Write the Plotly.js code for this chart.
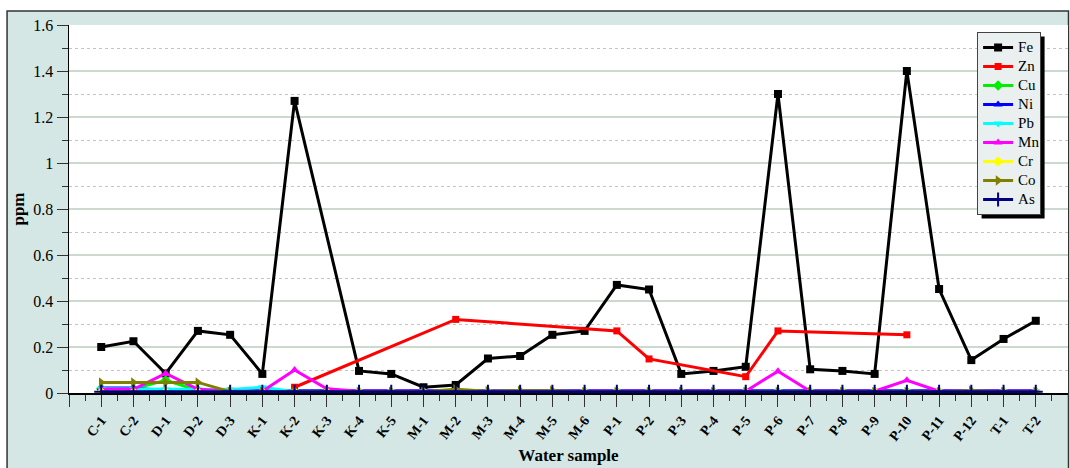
<!DOCTYPE html>
<html>
<head>
<meta charset="utf-8">
<script src="https://cdn.plot.ly/plotly-3.0.1.min.js"></script>
<style>
  html, body { margin: 0; padding: 0; background: #ffffff; }
  #chart { width: 1070px; height: 468px; }
  /* legend rows stay compact while the labels read larger */
  #chart .legendtext { font-size: 15px !important; }
</style>
</head>
<body>
<div id="chart"></div>
<script>
// Sample sites along the x axis
const samples = ['C-1','C-2','D-1','D-2','D-3','K-1','K-2','K-3','K-4','K-5',
  'M-1','M-2','M-3','M-4','M-5','M-6','P-1','P-2','P-3','P-4','P-5','P-6',
  'P-7','P-8','P-9','P-10','P-11','P-12','T-1','T-2'];

// Metal concentrations (ppm); null = not measured
const fe = [0.20, 0.225, 0.085, 0.27, 0.253, 0.083, 1.27, null, 0.096, 0.083,
  0.025, 0.035, 0.15, 0.161, 0.253, 0.27, 0.47, 0.45, 0.083, 0.096, 0.114, 1.30,
  0.103, 0.096, 0.083, 1.40, 0.452, 0.143, 0.235, 0.314];
const zn = [null, null, null, null, null, null, 0.025, null, null, null,
  null, 0.32, null, null, null, null, 0.27, 0.148, null, null, 0.071, 0.27,
  null, null, null, 0.253, null, null, null, null];
const cu = [0.02, 0.018, 0.055, 0.012, 0.005, 0.005, 0.005, 0.005, 0.005, 0.005,
  0.005, 0.005, 0.005, 0.005, 0.005, 0.005, 0.005, 0.005, 0.005, 0.005, 0.005, 0.005,
  0.005, 0.005, 0.005, 0.005, 0.005, 0.005, 0.005, 0.005];
const ni = [0.022, 0.022, 0.01, 0.01, 0.01, 0.01, 0.01, 0.01, 0.01, 0.01,
  0.01, 0.01, 0.01, 0.01, 0.01, 0.01, 0.01, 0.01, 0.01, 0.01, 0.01, 0.01,
  0.01, 0.01, 0.01, 0.01, 0.01, 0.01, 0.01, 0.01];
const pb = [0.018, 0.018, 0.015, 0.015, 0.015, 0.025, 0.006, 0.006, 0.006, 0.006,
  0.006, 0.006, 0.006, 0.006, 0.006, 0.006, 0.006, 0.006, 0.006, 0.006, 0.006, 0.006,
  0.006, 0.006, 0.006, 0.006, 0.006, 0.006, 0.006, 0.006];
const mn = [0.016, 0.016, 0.085, 0.016, 0.008, 0.008, 0.10, 0.018, 0.008, 0.008,
  0.008, 0.008, 0.008, 0.008, 0.008, 0.008, 0.008, 0.01, 0.01, 0.008, 0.008, 0.095,
  0.008, 0.008, 0.008, 0.055, 0.008, 0.008, 0.008, 0.008];
const cr = [0.004, 0.004, 0.004, 0.004, 0.004, 0.004, 0.004, 0.004, 0.004, 0.004,
  0.004, 0.004, 0.004, 0.004, 0.004, 0.004, 0.004, 0.004, 0.004, 0.004, 0.004, 0.004,
  0.004, 0.004, 0.004, 0.004, 0.004, 0.004, 0.004, 0.004];
const co = [0.046, 0.046, 0.046, 0.046, 0.006, 0.005, 0.005, 0.005, 0.005, 0.005,
  0.005, 0.016, 0.008, 0.01, 0.01, 0.005, 0.005, 0.005, 0.005, 0.005, 0.005, 0.005,
  0.005, 0.005, 0.005, 0.005, 0.005, 0.01, 0.005, 0.005];
const as = [0.005, 0.005, 0.005, 0.005, 0.005, 0.005, 0.005, 0.005, 0.005, 0.005,
  0.005, 0.005, 0.005, 0.005, 0.005, 0.005, 0.005, 0.005, 0.005, 0.005, 0.005, 0.005,
  0.005, 0.005, 0.005, 0.005, 0.005, 0.005, 0.005, 0.005];

const xIdx = samples.map((_, i) => i);
const serif = "'Liberation Serif', 'Times New Roman', Times, serif";

function series(name, values, color, symbol, size, extra) {
  const marker = { color: color, symbol: symbol, size: size };
  if (extra) Object.assign(marker, extra);
  return {
    type: 'scatter', mode: 'lines+markers', name: name,
    x: xIdx, y: values, connectgaps: true,
    line: { color: color, width: 3 },
    marker: marker
  };
}

const traces = [
  series('Fe', fe, '#000000', 'square', 8),
  series('Zn', zn, '#ff0000', 'square', 7),
  series('Cu', cu, '#00ee00', 'diamond', 8),
  series('Ni', ni, '#0000ff', 'triangle-up', 8),
  series('Pb', pb, '#00ffff', 'triangle-down', 8),
  series('Mn', mn, '#ff00ff', 'triangle-up', 8),
  series('Cr', cr, '#ffff00', 'diamond', 8),
  series('Co', co, '#808000', 'triangle-right', 9),
  series('As', as, '#000080', 'cross-thin-open', 10, { line: { color: '#000080', width: 2 } })
];

const tickVals = [-1].concat(xIdx, [30]);
const tickText = [''].concat(samples, ['']);

const baseShapes = [
  // framed panel behind the whole chart
  { type: 'rect', xref: 'paper', yref: 'paper', layer: 'below',
    x0: -0.062, x1: 1.0005, y0: -0.23, y1: 1.038,
    fillcolor: '#d4e7e5', line: { color: '#333333', width: 1.5 } },
  // white plotting area
  { type: 'rect', xref: 'paper', yref: 'paper', layer: 'below',
    x0: 0, x1: 1, y0: 0, y1: 1,
    fillcolor: '#ffffff', line: { width: 0 } }
];

const layout = {
  width: 1070, height: 468,
  margin: { l: 69, r: 2, t: 25, b: 75 },
  paper_bgcolor: '#ffffff',
  plot_bgcolor: 'rgba(0,0,0,0)',
  font: { family: serif, color: '#000000', size: 14 },
  showlegend: true,
  legend: {
    x: 0.909, y: 0.981, xanchor: 'left', yanchor: 'top',
    bgcolor: '#e9f0ef', bordercolor: '#444444', borderwidth: 1,
    font: { family: serif, size: 12, color: '#000000' },
    tracegroupgap: 0, entrywidth: 30, entrywidthmode: 'pixels'
  },
  xaxis: {
    range: [-1, 30], tickmode: 'array', tickvals: tickVals, ticktext: tickText,
    tickangle: -52, ticks: 'outside', ticklen: 12, tickwidth: 1, tickcolor: '#333333',
    tickfont: { family: serif, size: 14, color: '#000000', weight: 'bold' },
    showline: true, linecolor: '#000000', linewidth: 1.5,
    showgrid: false, zeroline: false,
    minor: { dtick: 0.5, tick0: -1, ticks: 'outside', ticklen: 6, tickcolor: '#333333', showgrid: false },
    title: { text: '<b>Water sample</b>', font: { family: serif, size: 17 }, standoff: 6 }
  },
  yaxis: {
    range: [0, 1.6], dtick: 0.2, tick0: 0,
    ticks: 'outside', ticklen: 11, tickwidth: 1, tickcolor: '#333333',
    tickfont: { family: serif, size: 16, color: '#000000' },
    showline: true, linecolor: '#000000', linewidth: 1.5,
    showgrid: true, gridcolor: '#cbd9cf', gridwidth: 1.5, zeroline: false,
    minor: { dtick: 0.1, ticks: 'outside', ticklen: 6, tickcolor: '#333333',
      showgrid: true, gridcolor: '#c4c4c4', griddash: 'dot', gridwidth: 1 },
    title: { text: '<b>ppm</b>', font: { family: serif, size: 17 }, standoff: 4 }
  },
  shapes: baseShapes
};

Plotly.newPlot('chart', traces, layout, { displayModeBar: false, staticPlot: true }).then(gd => {
  // drop shadow offset to the lower right of the legend box
  const bg = gd.querySelector('.legend .bg');
  if (!bg) return;
  const r = bg.getBoundingClientRect();
  const fl = gd._fullLayout;
  const px = v => (v - fl._size.l) / fl._size.w;
  const py = v => 1 - (v - fl._size.t) / fl._size.h;
  const off = 4;
  const shadow = { type: 'rect', xref: 'paper', yref: 'paper', layer: 'above',
    x0: px(r.left + off), x1: px(r.right + off), y0: py(r.bottom + off), y1: py(r.top + off),
    fillcolor: '#000000', line: { width: 0 } };
  return Plotly.relayout(gd, { shapes: baseShapes.concat([shadow]) });
});
</script>
</body>
</html>
